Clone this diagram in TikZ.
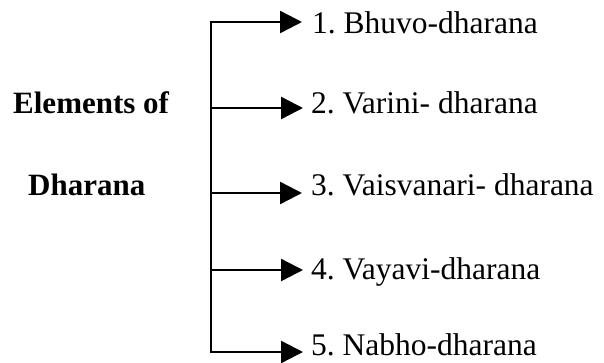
\documentclass[tikz,border=0pt]{standalone}
\usepackage{fontspec}
\setmainfont{Liberation Serif}
\usetikzlibrary{arrows.meta}
\frenchspacing
\begin{document}
\begin{tikzpicture}[x=1pt,y=-1pt,
  item/.style={anchor=base west,inner sep=0pt,font=\fontsize{31.5}{36}\selectfont},
  title/.style={anchor=base west,inner sep=0pt,font=\fontsize{31}{36}\selectfont\bfseries},
  >={Triangle[length=22pt,width=22pt]},
  link/.style={line width=2.4pt,->},
  spine/.style={line width=2.4pt,<->,line join=miter}]
\useasboundingbox (0,0) rectangle (604,362);
% heading
\node[title] (h1) at (13,113) {Elements of};
\node[title] (h2) at (28,195) {Dharana};
% branch points on the vertical spine
\coordinate (s1) at (211,22);
\coordinate (s2) at (211,108);
\coordinate (s3) at (211,193);
\coordinate (s4) at (211,270);
\coordinate (s5) at (211,352);
% arrow tips
\coordinate (t1) at (302,22);
\coordinate (t2) at (303,108);
\coordinate (t3) at (302,193);
\coordinate (t4) at (303,270);
\coordinate (t5) at (303,352);
% list entries
\node[item] (i1) at (312,33) {1. Bhuvo-dharana};
\node[item] (i2) at (311,113) {2. Varini- dharana};
\node[item] (i3) at (311,195) {3. Vaisvanari- dharana};
\node[item] (i4) at (311,279) {4. Vayavi-dharana};
\node[item] (i5) at (311,355.5) {5. Nabho-dharana};
% connectors
\draw[spine] (t1) -- (s1) -- (s5) -- (t5);
\draw[link] (s2) -- (t2);
\draw[link] (s3) -- (t3);
\draw[link] (s4) -- (t4);
\end{tikzpicture}
\end{document}
